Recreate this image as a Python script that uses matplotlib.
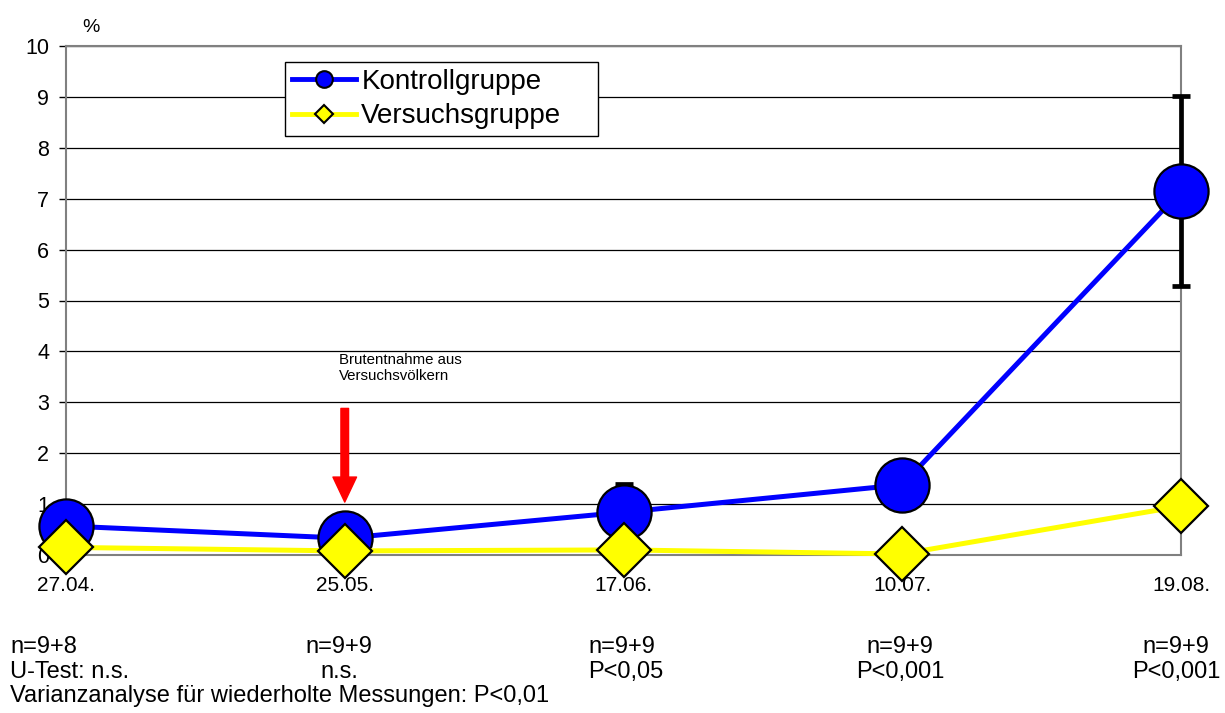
import numpy as np
import matplotlib
matplotlib.use("Agg")
import matplotlib.pyplot as plt
from matplotlib.lines import Line2D

plt.rcParams['font.family'] = ['Liberation Sans', 'DejaVu Sans']

# data
dates = ["27.04.", "25.05.", "17.06.", "10.07.", "19.08."]
kontroll = [0.57, 0.33, 0.84, 1.38, 7.15]
kontroll_err = [0.3, 0.2, 0.56, 0.4, 1.87]
versuch = [0.15, 0.08, 0.10, 0.02, 0.96]
n_labels = ["n=9+8", "n=9+9", "n=9+9", "n=9+9", "n=9+9"]
test_labels = ["U-Test: n.s.", "n.s.", "P<0,05", "P<0,001", "P<0,001"]
anova_text = "Varianzanalyse für wiederholte Messungen: P<0,01"
arrow_from, arrow_to = 2.88, 1.04

x = np.arange(len(dates))

fig = plt.figure(figsize=(12.25, 7.13), dpi=100)
ax = fig.add_axes([66 / 1225, 1 - 555 / 713, 1115 / 1225, 509 / 713])

ax.set_xlim(0, 4)
ax.set_ylim(0, 10)
ax.set_yticks(range(0, 11))
ax.yaxis.grid(True, color='black', lw=0.9)
ax.set_axisbelow(True)
for s in ax.spines.values():
    s.set_color('#808080')
    s.set_linewidth(1.5)

ax.set_xticks(x)
ax.set_xticklabels(dates)
ax.tick_params(axis='x', length=0, pad=15, labelsize=15)
ax.tick_params(axis='y', length=5, width=1, pad=7, labelsize=15.5)

# Kontrollgruppe
ax.plot(x, kontroll, color='blue', lw=3.6, zorder=3, clip_on=False)
ax.errorbar(x, kontroll, yerr=kontroll_err, fmt='none', ecolor='black',
            elinewidth=3.4, capsize=6.5, capthick=3.4, zorder=3.5, clip_on=False)
ax.plot(x, kontroll, 'o', ms=39, mfc='blue', mec='black', mew=1.6,
        zorder=4, clip_on=False)

# Versuchsgruppe
ax.plot(x, versuch, color='yellow', lw=3.6, zorder=5, clip_on=False)
ax.plot(x, versuch, 'D', ms=27.5, mfc='yellow', mec='black', mew=1.6,
        zorder=6, clip_on=False)

# annotation arrow
ax.annotate('', xy=(1, arrow_to), xytext=(1, arrow_from),
            arrowprops=dict(facecolor='red', edgecolor='red', width=5.5,
                            headwidth=17, headlength=18, shrink=0))
ax.text(0.979, 3.96, "Brutentnahme aus\nVersuchsvölkern", fontsize=10.8,
        va='top', ha='left', linespacing=1.15)

handles = [
    Line2D([], [], color='blue', lw=3.5, marker='o', ms=12, mfc='blue',
           mec='black', mew=1.5),
    Line2D([], [], color='yellow', lw=3.5, marker='D', ms=9.5, mfc='yellow',
           mec='black', mew=1.5),
]
leg = ax.legend(handles, ["Kontrollgruppe", "Versuchsgruppe"],
                loc='upper left', bbox_to_anchor=(0.1964, 0.8254, 0.2807, 0.1432),
                mode='expand', fontsize=20, frameon=True, fancybox=False,
                edgecolor='black', framealpha=1, borderaxespad=0,
                borderpad=0.25, labelspacing=0.3, handlelength=2.3,
                handletextpad=0.2)
leg.get_frame().set_linewidth(1.0)
leg.set_zorder(10)

fig.text(91 / 1225, 1 - 28 / 713, "%", fontsize=14, ha='center', va='center')

# text below the chart
fs = 17
row1 = 1 - 653 / 713
row2 = 1 - 678 / 713
row3 = 1 - 702 / 713
fig.text(10 / 1225, row1, n_labels[0], fontsize=fs, va='baseline')
fig.text(10 / 1225, row2, test_labels[0], fontsize=fs, va='baseline')
fig.text(588 / 1225, row1, n_labels[2], fontsize=fs, va='baseline')
fig.text(588 / 1225, row2, test_labels[2], fontsize=fs, va='baseline')
for i, cx in [(1, 339), (3, 900), (4, 1176)]:
    fig.text(cx / 1225, row1, n_labels[i], fontsize=fs, va='baseline', ha='center')
    fig.text(cx / 1225, row2, test_labels[i], fontsize=fs, va='baseline', ha='center')
fig.text(10 / 1225, row3, anova_text, fontsize=fs, va='baseline')

fig.savefig("out.png", dpi=100)
